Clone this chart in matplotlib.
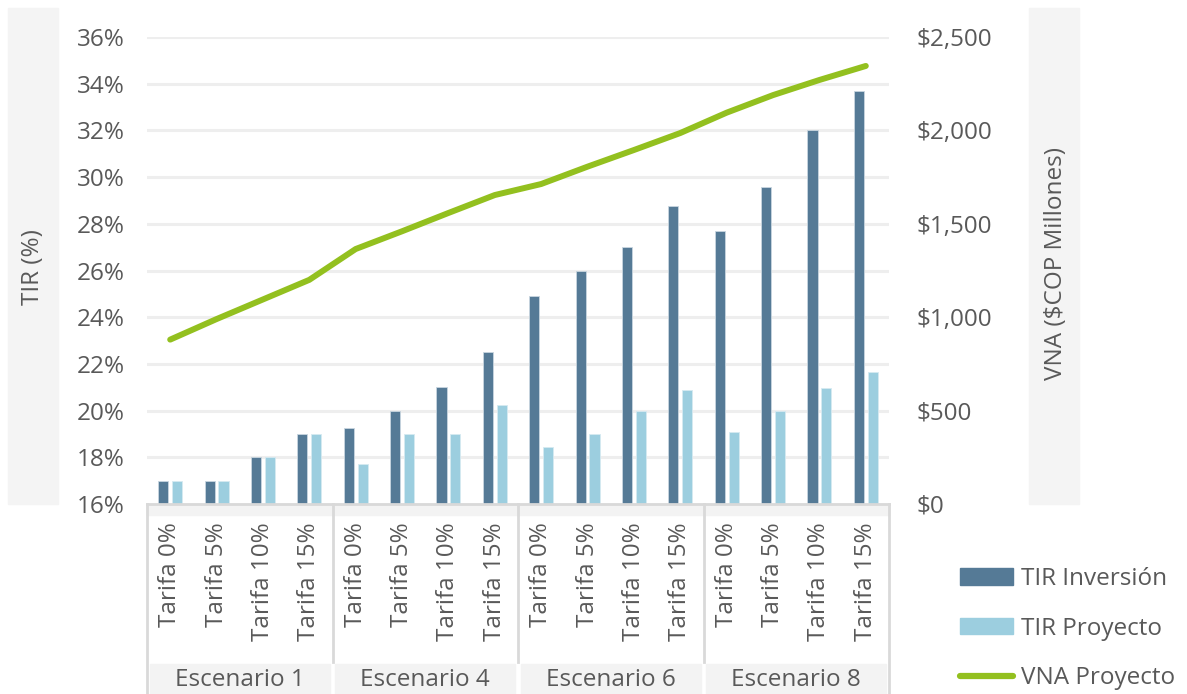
import matplotlib.pyplot as plt
import matplotlib.transforms as mtransforms
from matplotlib.patches import Rectangle, Patch
from matplotlib.lines import Line2D
from matplotlib.ticker import FuncFormatter
import numpy as np

plt.rcParams['font.family'] = ['Open Sans', 'DejaVu Sans']

# ---- data
escenarios = ['Escenario 1', 'Escenario 4', 'Escenario 6', 'Escenario 8']
tarifas = ['Tarifa 0%', 'Tarifa 5%', 'Tarifa 10%', 'Tarifa 15%']
tir_inversion = [17.0, 17.0, 18.0, 19.0,
                 19.27, 20.0, 21.0, 22.5,
                 24.9, 26.0, 27.0, 28.76,
                 27.68, 29.58, 32.0, 33.67]
tir_proyecto = [17.0, 17.0, 18.0, 19.0,
                17.73, 19.0, 19.0, 20.24,
                18.43, 19.0, 20.0, 20.9,
                19.08, 20.0, 20.95, 21.65]
vna_proyecto = [880, 990, 1095, 1200,
                1365, 1460, 1558, 1654,
                1713, 1806, 1895, 1986,
                2095, 2189, 2270, 2345]

C_DARK = '#557A96'
C_LIGHT = '#9CCEDF'
C_GREEN = '#93C01F'
C_TXT = '#595959'
C_GRID = '#EEEEEE'
C_BAND = '#F3F3F3'
C_SEP = '#D9D9D9'
FS = 17.5

W, H = 1187, 694
fig = plt.figure(figsize=(W / 100, H / 100), dpi=100)
ax = fig.add_axes([147 / W, 1 - 504 / H, (889 - 147) / W, (504 - 37) / H])
ax2 = ax.twinx()

labels = [t for e in escenarios for t in tarifas]
x = np.arange(len(labels))
bw = 0.22
ax.bar(x - 0.15, tir_inversion, bw, bottom=0, color=C_DARK, edgecolor='#C9D6E0', linewidth=0.6,
       label='TIR Inversión', zorder=2)
ax.bar(x + 0.15, tir_proyecto, bw, bottom=0, color=C_LIGHT, edgecolor='#D6EAF1', linewidth=0.6,
       label='TIR Proyecto', zorder=2)
ax2.plot(x, vna_proyecto, color=C_GREEN, linewidth=4.3, solid_capstyle='round',
         solid_joinstyle='round', label='VNA Proyecto')

ax.set_xlim(-0.5, len(labels) - 0.5)
ax.set_ylim(16, 36)
ax.set_yticks(np.arange(16, 37, 2))
ax.yaxis.set_major_formatter(FuncFormatter(lambda v, p: f'{v:.0f}%'))
ax2.set_ylim(0, 2500)
ax2.set_yticks(np.arange(0, 2501, 500))
ax2.yaxis.set_major_formatter(FuncFormatter(lambda v, p: f'${v:,.0f}'))

ax.set_axisbelow(True)
for g in np.arange(18, 37, 2):
    ax.axhline(g, color=C_GRID, linewidth=2.2, zorder=0)

for a in (ax, ax2):
    for s in a.spines.values():
        s.set_visible(False)
    a.tick_params(length=0, labelsize=FS, labelcolor=C_TXT)
ax.tick_params(axis='y', pad=16)
ax2.tick_params(axis='y', pad=20)

ax.set_xticks(x)
ax.set_xticklabels(labels, rotation=90, fontsize=FS, color=C_TXT)
ax.tick_params(axis='x', pad=13)

# side panels with axis titles
for x0 in (8, 1029):
    fig.patches.append(Rectangle((x0 / W, 1 - 504 / H), 50 / W, 496 / H,
                                 transform=fig.transFigure, color='#F4F4F4', zorder=0))
fig.text(33 / W, 1 - 267 / H, 'TIR (%)', rotation=90, ha='center', va='center',
         fontsize=FS, color=C_TXT)
fig.text(1056 / W, 1 - 263 / H, 'VNA ($COP Millones)', rotation=90, ha='center', va='center',
         fontsize=FS, color=C_TXT)

# category table below the axis
tr = mtransforms.blended_transform_factory(ax.transData, fig.transFigure)
fy = lambda py: 1 - py / H
ax.add_patch(Rectangle((-0.5, fy(515)), len(labels), (515 - 504) / H, transform=tr,
                       color=C_BAND, clip_on=False, zorder=1))
ax.add_line(Line2D([-0.5, len(labels) - 0.5], [fy(504), fy(504)], transform=tr,
                   color=C_SEP, linewidth=2, clip_on=False))
for i, e in enumerate(escenarios):
    left = i * 4 - 0.5
    ax.add_patch(Rectangle((left + 0.06, fy(694)), 4 - 0.12, (694 - 664) / H, transform=tr,
                           color=C_BAND, clip_on=False))
    ax.text(left + 2, fy(680), e, transform=tr, ha='center', va='center',
            fontsize=FS, color=C_TXT)
for i in range(len(escenarios) + 1):
    xb = i * 4 - 0.5
    bottom = 694 if i in (0, len(escenarios)) else 662
    ax.add_line(Line2D([xb, xb], [fy(504), fy(bottom)], transform=tr,
                       color=C_SEP, linewidth=2, clip_on=False))

handles = [Patch(color=C_DARK), Patch(color=C_LIGHT),
           Line2D([], [], color=C_GREEN, linewidth=4.5, solid_capstyle='round')]
fig.legend(handles, ['TIR Inversión', 'TIR Proyecto', 'VNA Proyecto'],
           loc='upper left', bbox_to_anchor=(960 / W, 1 - 567 / H), frameon=False,
           fontsize=FS, labelcolor=C_TXT, handlelength=2.2, handleheight=0.65,
           handletextpad=0.3, labelspacing=1.05, borderaxespad=0, borderpad=0)

fig.savefig('out.png', dpi=100)
